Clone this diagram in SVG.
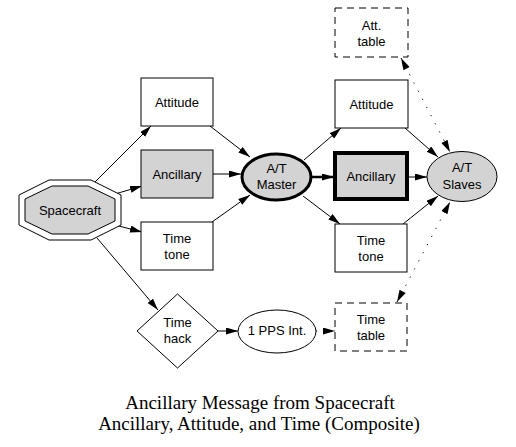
<svg xmlns="http://www.w3.org/2000/svg" width="516" height="447" viewBox="0 0 516 447">
<style>
  .box { fill: #ffffff; stroke: #000000; stroke-width: 1; }
  .gray { fill: #d3d3d3; stroke: #000000; stroke-width: 1; }
  .dash { fill: #ffffff; stroke: #000000; stroke-width: 1; stroke-dasharray: 7 5; }
  .thick { stroke-width: 3; }
  .thicker { stroke-width: 4; }
  .lbl { font-family: "Liberation Sans", Arial, sans-serif; font-size: 13px; fill: #000000; text-anchor: middle; }
  .cap { font-family: "Liberation Serif", "Times New Roman", serif; font-size: 19px; fill: #000000; text-anchor: middle; }
  .edge { fill: none; stroke: #000000; stroke-width: 1; marker-end: url(#arr); }
  .dot { stroke-dasharray: 1.2 8; }
  .both { marker-start: url(#arrs); }
  .heavy { stroke-width: 2.5; }
</style>
<defs>
  <marker id="arr" markerUnits="userSpaceOnUse" markerWidth="13" markerHeight="8" refX="12" refY="3.5" orient="auto">
    <path d="M0,0 L12,3.5 L0,7 z" fill="#000000"/>
  </marker>
  <marker id="arrs" markerUnits="userSpaceOnUse" markerWidth="13" markerHeight="8" refX="0" refY="3.5" orient="auto">
    <path d="M12,0 L0,3.5 L12,7 z" fill="#000000"/>
  </marker>
</defs>
<rect width="516" height="447" fill="#ffffff"/>

<g id="connectors">
  <line class="edge" x1="95" y1="182" x2="151" y2="126"/>
  <line class="edge" x1="115" y1="194" x2="142" y2="186"/>
  <line class="edge" x1="115" y1="225" x2="142" y2="232"/>
  <line class="edge" x1="97" y1="238" x2="158" y2="310"/>
  <line class="edge" x1="210" y1="126" x2="250" y2="157"/>
  <line class="edge" x1="213" y1="174" x2="241" y2="174"/>
  <line class="edge" x1="212" y1="222" x2="250" y2="195"/>
  <line class="edge" x1="304" y1="160" x2="341" y2="128"/>
  <line class="edge heavy" x1="312" y1="177" x2="334" y2="177"/>
  <line class="edge" x1="303" y1="196" x2="340" y2="224"/>
  <line class="edge" x1="405" y1="128" x2="438" y2="157"/>
  <line class="edge" x1="409" y1="177" x2="427" y2="177"/>
  <line class="edge" x1="403" y1="224" x2="438" y2="196"/>
  <line class="edge dot both" x1="401" y1="58" x2="450" y2="152"/>
  <line class="edge dot both" x1="397" y1="302" x2="450" y2="202"/>
  <line class="edge" x1="218" y1="331" x2="238" y2="331"/>
  <line class="edge dot" x1="316" y1="331" x2="335" y2="331"/>
</g>

<g id="spacecraft">
  <polygon class="box" points="49,180 91,180 121,195 121,225 91,240 49,240 19,225 19,195"/>
  <polygon class="gray" points="52,186 88,186 115,199 115,221 88,234 52,234 25,221 25,199"/>
  <text class="lbl" x="70" y="214.5">Spacecraft</text>
</g>

<g id="attitude-in">
  <rect class="box" x="141" y="78" width="72" height="48"/>
  <text class="lbl" x="177" y="106.5">Attitude</text>
</g>
<g id="ancillary-in">
  <rect class="gray" x="141" y="150" width="72" height="48"/>
  <text class="lbl" x="177" y="178.5">Ancillary</text>
</g>
<g id="timetone-in">
  <rect class="box" x="141" y="222" width="72" height="48"/>
  <text class="lbl" x="177" y="243">Time</text>
  <text class="lbl" x="177" y="259">tone</text>
</g>

<g id="master">
  <ellipse class="gray thick" cx="276.5" cy="177" rx="34.5" ry="23"/>
  <text class="lbl" x="276.5" y="173">A/T</text>
  <text class="lbl" x="276.5" y="189">Master</text>
</g>

<g id="att-table">
  <rect class="dash" x="335" y="8" width="73" height="49"/>
  <text class="lbl" x="371.5" y="30">Att.</text>
  <text class="lbl" x="371.5" y="46">table</text>
</g>
<g id="attitude-out">
  <rect class="box" x="335" y="80" width="73" height="48"/>
  <text class="lbl" x="371.5" y="108.5">Attitude</text>
</g>
<g id="ancillary-out">
  <rect class="gray thicker" x="335" y="153" width="72" height="46"/>
  <text class="lbl" x="371" y="180.5">Ancillary</text>
</g>
<g id="timetone-out">
  <rect class="box" x="335" y="224" width="72" height="48"/>
  <text class="lbl" x="371" y="245">Time</text>
  <text class="lbl" x="371" y="261">tone</text>
</g>
<g id="time-table">
  <rect class="dash" x="335" y="303" width="72" height="48"/>
  <text class="lbl" x="371" y="324">Time</text>
  <text class="lbl" x="371" y="340">table</text>
</g>

<g id="slaves">
  <ellipse class="gray" cx="462" cy="176.5" rx="35" ry="25"/>
  <text class="lbl" x="462" y="172">A/T</text>
  <text class="lbl" x="462" y="189">Slaves</text>
</g>

<g id="time-hack">
  <polygon class="box" points="177.5,294 218,331 177.5,368 137,331"/>
  <text class="lbl" x="177.5" y="327">Time</text>
  <text class="lbl" x="177.5" y="343">hack</text>
</g>

<g id="pps">
  <ellipse class="box" cx="277" cy="331.5" rx="39" ry="21.5"/>
  <text class="lbl" x="277" y="335">1 PPS Int.</text>
</g>

<g id="caption">
  <text class="cap" x="260" y="409">Ancillary Message from Spacecraft</text>
  <text class="cap" x="259" y="430">Ancillary, Attitude, and Time (Composite)</text>
</g>
</svg>
